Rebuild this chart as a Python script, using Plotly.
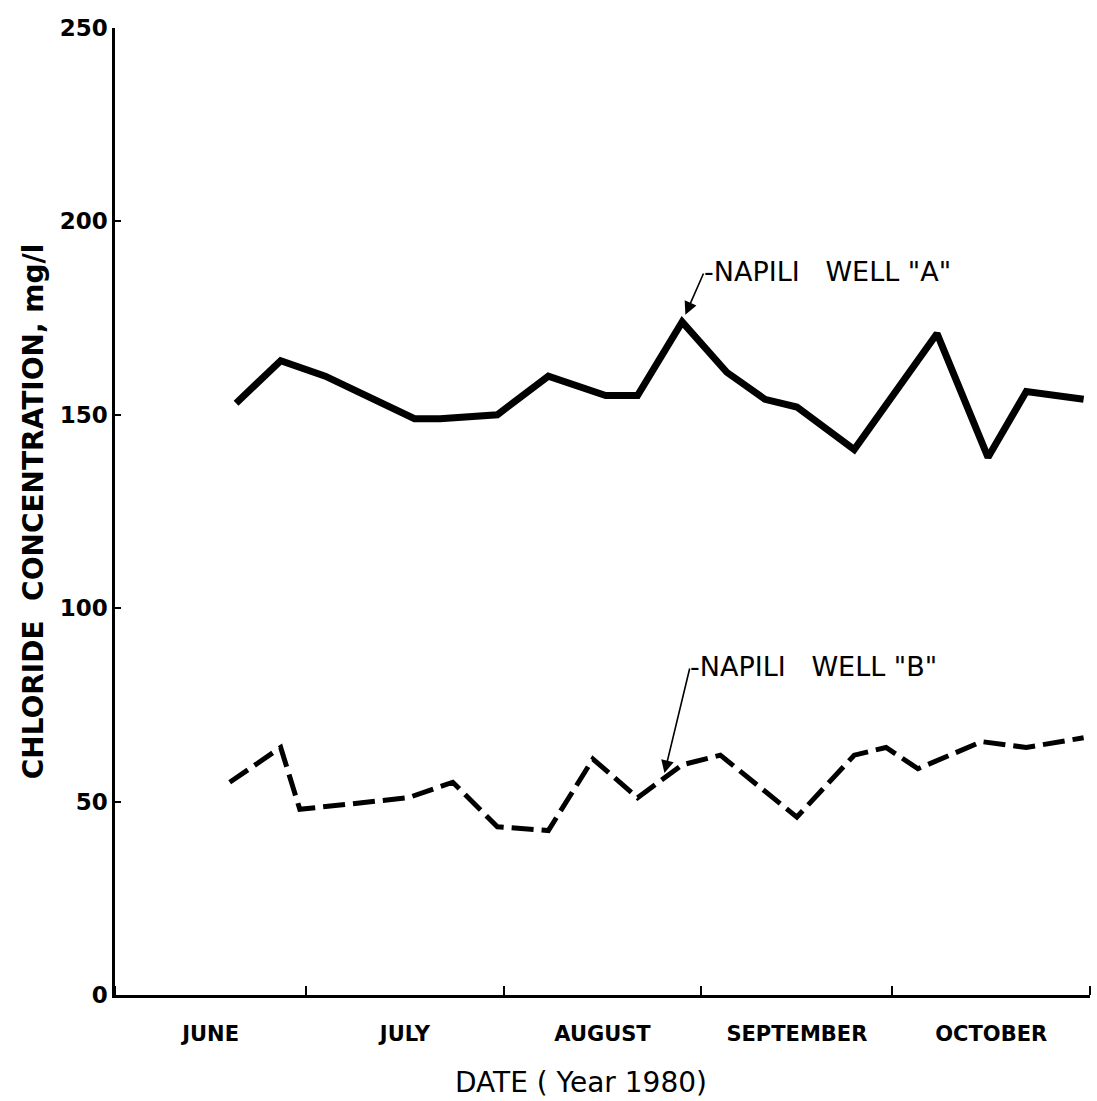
import numpy as np
import pandas as pd
import plotly.graph_objects as go

# ---- data ----
dates_a = ["1980-06-20", "1980-06-27", "1980-07-04", "1980-07-18", "1980-07-22",
           "1980-07-31", "1980-08-08", "1980-08-17", "1980-08-22", "1980-08-29",
           "1980-09-05", "1980-09-11", "1980-09-16", "1980-09-25", "1980-10-08",
           "1980-10-16", "1980-10-22", "1980-10-31"]
chloride_a = [153, 164, 160, 149, 149, 150, 160, 155, 155, 174,
              161, 154, 152, 141, 171, 139, 156, 154]

dates_b = ["1980-06-19", "1980-06-27", "1980-06-30", "1980-07-17", "1980-07-24",
           "1980-07-31", "1980-08-08", "1980-08-15", "1980-08-22", "1980-08-29",
           "1980-09-04", "1980-09-16", "1980-09-25", "1980-09-30", "1980-10-05",
           "1980-10-15", "1980-10-22", "1980-10-31"]
chloride_b = [55, 64, 48, 51, 55, 43.5, 42.5, 61, 51, 59.5,
              62, 46, 62, 64, 58.5, 65.5, 64, 66.5]

month_starts = ["1980-06-01", "1980-07-01", "1980-08-01", "1980-09-01",
                "1980-10-01", "1980-11-01"]
month_mids = ["1980-06-16", "1980-07-16T12:00", "1980-08-16T12:00",
              "1980-09-16", "1980-10-16T12:00"]
month_labels = ["JUNE", "JULY", "AUGUST", "SEPTEMBER", "OCTOBER"]
y_ticks = [0, 50, 100, 150, 200, 250]

label_a = "-NAPILI   WELL \"A\""
label_b = "-NAPILI   WELL \"B\""
x_title = "DATE ( Year 1980)"
y_title = "CHLORIDE  CONCENTRATION, mg/l"

# arrow targets
peak_idx = int(np.argmax(chloride_a))
target_a_x, target_a_y = dates_a[peak_idx], chloride_a[peak_idx]
target_b_x = "1980-08-26"
tb = pd.to_datetime(dates_b).astype("int64")
target_b_y = float(np.interp(pd.Timestamp(target_b_x).value, tb, chloride_b))

FONT = "DejaVu Sans"

fig = go.Figure()
fig.add_trace(go.Scatter(x=dates_a, y=chloride_a, mode="lines",
                         line=dict(color="black", width=7),
                         name="Napili Well A", showlegend=False))
fig.add_trace(go.Scatter(x=dates_b, y=chloride_b, mode="lines",
                         line=dict(color="black", width=5, dash="22px,8px"),
                         name="Napili Well B", showlegend=False))

# arrows and labels
fig.add_annotation(x=target_a_x, y=target_a_y, text="", showarrow=True,
                   ax=22, ay=-50, arrowhead=2, arrowsize=1.6, arrowwidth=1.6,
                   arrowcolor="black", standoff=8)
fig.add_annotation(x=target_a_x, y=target_a_y, text=label_a, showarrow=False,
                   xshift=20, yshift=50, xanchor="left", yanchor="middle",
                   font=dict(family=FONT, size=27, color="black"))
fig.add_annotation(x=target_b_x, y=target_b_y, text="", showarrow=True,
                   ax=27, ay=-112, arrowhead=2, arrowsize=1.6, arrowwidth=1.6,
                   arrowcolor="black", standoff=6)
fig.add_annotation(x=target_b_x, y=target_b_y, text=label_b, showarrow=False,
                   xshift=25, yshift=112, xanchor="left", yanchor="middle",
                   font=dict(family=FONT, size=27, color="black"))

# x-axis title (slightly left of centre, as in the original)
fig.add_annotation(xref="paper", yref="paper", x=0.478, y=-0.09,
                   text=x_title, showarrow=False, xanchor="center", yanchor="middle",
                   font=dict(family=FONT, size=28, color="black"))

fig.update_layout(
    width=1097, height=1101,
    margin=dict(l=115, r=7, t=28, b=106),
    paper_bgcolor="white", plot_bgcolor="white",
    font=dict(family=FONT, color="black"),
)
fig.update_xaxes(
    type="date", range=["1980-06-01", "1980-11-01"],
    tickmode="array", tickvals=month_mids, ticktext=month_labels,
    ticks="", ticklabelstandoff=18,
    tickfont=dict(family=FONT, size=21, color="black", weight="bold"),
    minor=dict(tickmode="array", tickvals=month_starts, ticks="inside",
               ticklen=9, tickwidth=2, tickcolor="black"),
    showline=True, linecolor="black", linewidth=2.5, mirror=False,
    showgrid=False, zeroline=False,
)
fig.update_yaxes(
    range=[0, 250], tickmode="array", tickvals=y_ticks,
    ticks="inside", ticklen=6, tickwidth=2, tickcolor="black",
    tickfont=dict(family=FONT, size=23, color="black", weight="bold"),
    showline=True, linecolor="black", linewidth=2.5,
    showgrid=False, zeroline=False,
    title=dict(text=y_title, standoff=8,
               font=dict(family=FONT, size=28, color="black", weight="bold")),
)

fig.write_html("out.html")
